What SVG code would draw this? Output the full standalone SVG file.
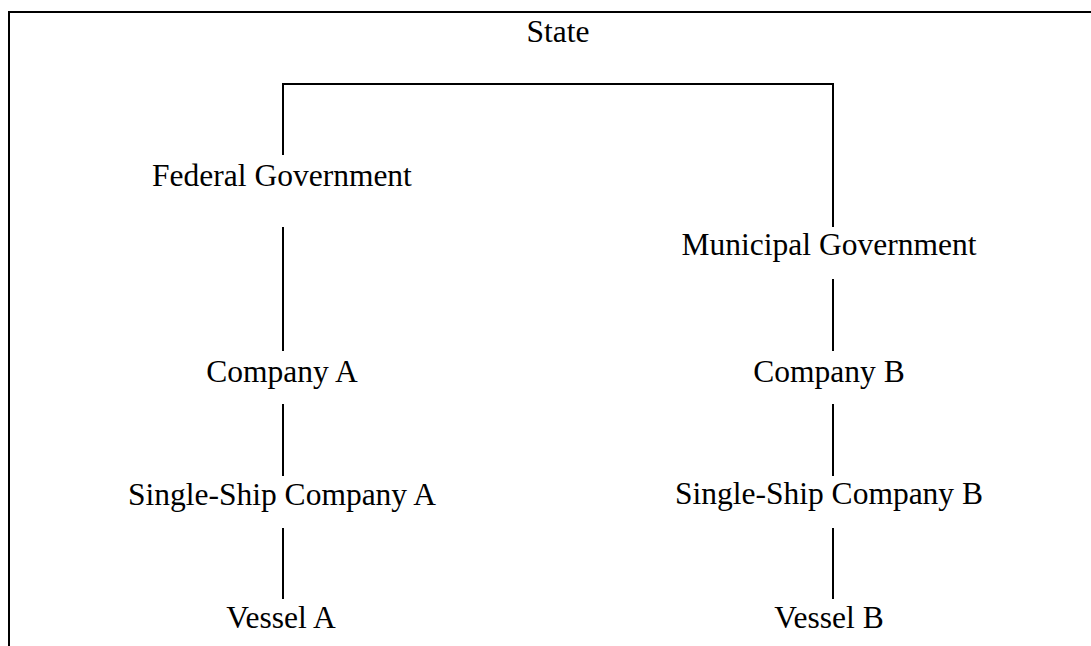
<svg xmlns="http://www.w3.org/2000/svg" width="1091" height="646" viewBox="0 0 1091 646">
<style>
.t{font-family:"Liberation Serif","Times New Roman",serif;font-size:31.5px;fill:#000;text-anchor:middle}
.c{stroke:#000;stroke-width:2;fill:none}
</style>
<rect width="1091" height="646" fill="#fff"/>
<path id="frame" class="c" d="M9,646 V12 H1091"/>
<g id="connectors">
<path class="c" d="M283,155 V84 H833 V227"/>
<path class="c" d="M283,227 V351"/>
<path class="c" d="M283,404 V476"/>
<path class="c" d="M283,528 V599"/>
<path class="c" d="M833,279 V351"/>
<path class="c" d="M833,404 V476"/>
<path class="c" d="M833,528 V599"/>
</g>
<g id="state"><text class="t" x="558" y="42">State</text></g>
<g id="federal"><text class="t" x="282" y="186">Federal Government</text></g>
<g id="municipal"><text class="t" x="829" y="255">Municipal Government</text></g>
<g id="companyA"><text class="t" x="282" y="382">Company A</text></g>
<g id="companyB"><text class="t" x="829" y="382">Company B</text></g>
<g id="sscA"><text class="t" x="282" y="505">Single-Ship Company A</text></g>
<g id="sscB"><text class="t" x="829" y="504">Single-Ship Company B</text></g>
<g id="vesselA"><text class="t" x="281" y="628">Vessel A</text></g>
<g id="vesselB"><text class="t" x="829" y="628">Vessel B</text></g>
</svg>
